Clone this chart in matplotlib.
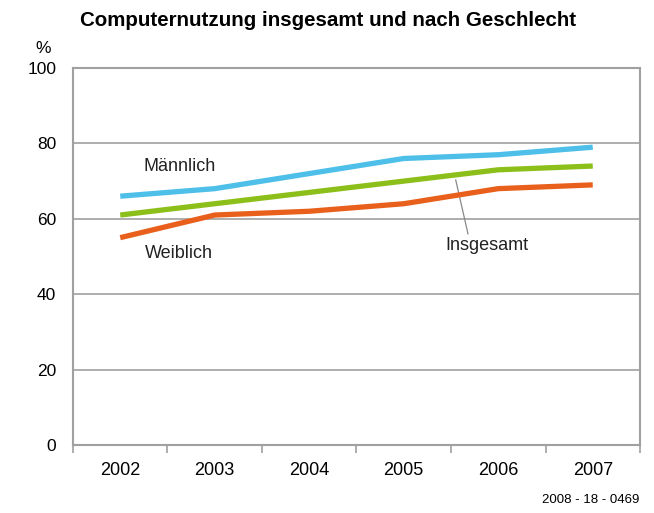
### Computernutzung insgesamt und nach Geschlecht ###
import matplotlib
matplotlib.use('Agg')
import matplotlib.pyplot as plt

years = ['2002', '2003', '2004', '2005', '2006', '2007']
maennlich = [66, 68, 72, 76, 77, 79]
insgesamt = [61, 64, 67, 70, 73, 74]
weiblich = [55, 61, 62, 64, 68, 69]
yticks = [0, 20, 40, 60, 80, 100]

BLUE = '#4dbfe8'
GREEN = '#8dbf1a'
ORANGE = '#e8601c'
GRAY = '#a0a0a0'

plt.rcParams['font.family'] = ['Liberation Sans', 'DejaVu Sans']

fig = plt.figure(figsize=(6.54, 5.13), dpi=100)
ax = fig.add_axes([0.1116, 0.1326, 0.8670, 0.7348])

x = list(range(len(years)))
ax.plot(x, maennlich, color=BLUE, linewidth=3.8, solid_capstyle='butt', zorder=3)
ax.plot(x, insgesamt, color=GREEN, linewidth=3.8, solid_capstyle='butt', zorder=3)
ax.plot(x, weiblich, color=ORANGE, linewidth=3.8, solid_capstyle='butt', zorder=3)

ax.set_xlim(-0.5, len(years) - 0.5)
ax.set_ylim(0, 100)
ax.set_yticks(yticks)
ax.set_yticklabels([str(v) for v in yticks], fontsize=12.5)
ax.tick_params(axis='y', length=0, pad=12)
ax.yaxis.grid(True, color=GRAY, linewidth=1.2)
ax.set_axisbelow(True)

# category labels centred, tick marks between categories
ax.set_xticks(x)
ax.set_xticklabels(years, fontsize=13)
ax.set_xticks([i - 0.5 for i in range(len(years) + 1)], minor=True)
ax.tick_params(axis='x', which='major', length=0, pad=12)
ax.tick_params(axis='x', which='minor', length=6, color=GRAY, width=1.2)

for s in ax.spines.values():
    s.set_color(GRAY)
    s.set_linewidth(1.5)

ax.text(0.63, 73.8, 'Männlich', fontsize=13, ha='center', va='center', color='#222222')
ax.text(0.62, 50.8, 'Weiblich', fontsize=13, ha='center', va='center', color='#222222')
ax.text(3.88, 52.8, 'Insgesamt', fontsize=13, ha='center', va='center', color='#222222')
ax.plot([3.55, 3.68], [70.3, 56.0], color='#888888', linewidth=0.9, zorder=2)

fig.text(0.502, 0.96, 'Computernutzung insgesamt und nach Geschlecht',
         fontsize=14.8, fontweight='bold', ha='center', va='center')
fig.text(0.066, 0.906, '%', fontsize=12.5, ha='center', va='center')
fig.text(0.978, 0.025, '2008 - 18 - 0469', fontsize=9.5, ha='right', va='center')

fig.savefig('out.png', dpi=100)
